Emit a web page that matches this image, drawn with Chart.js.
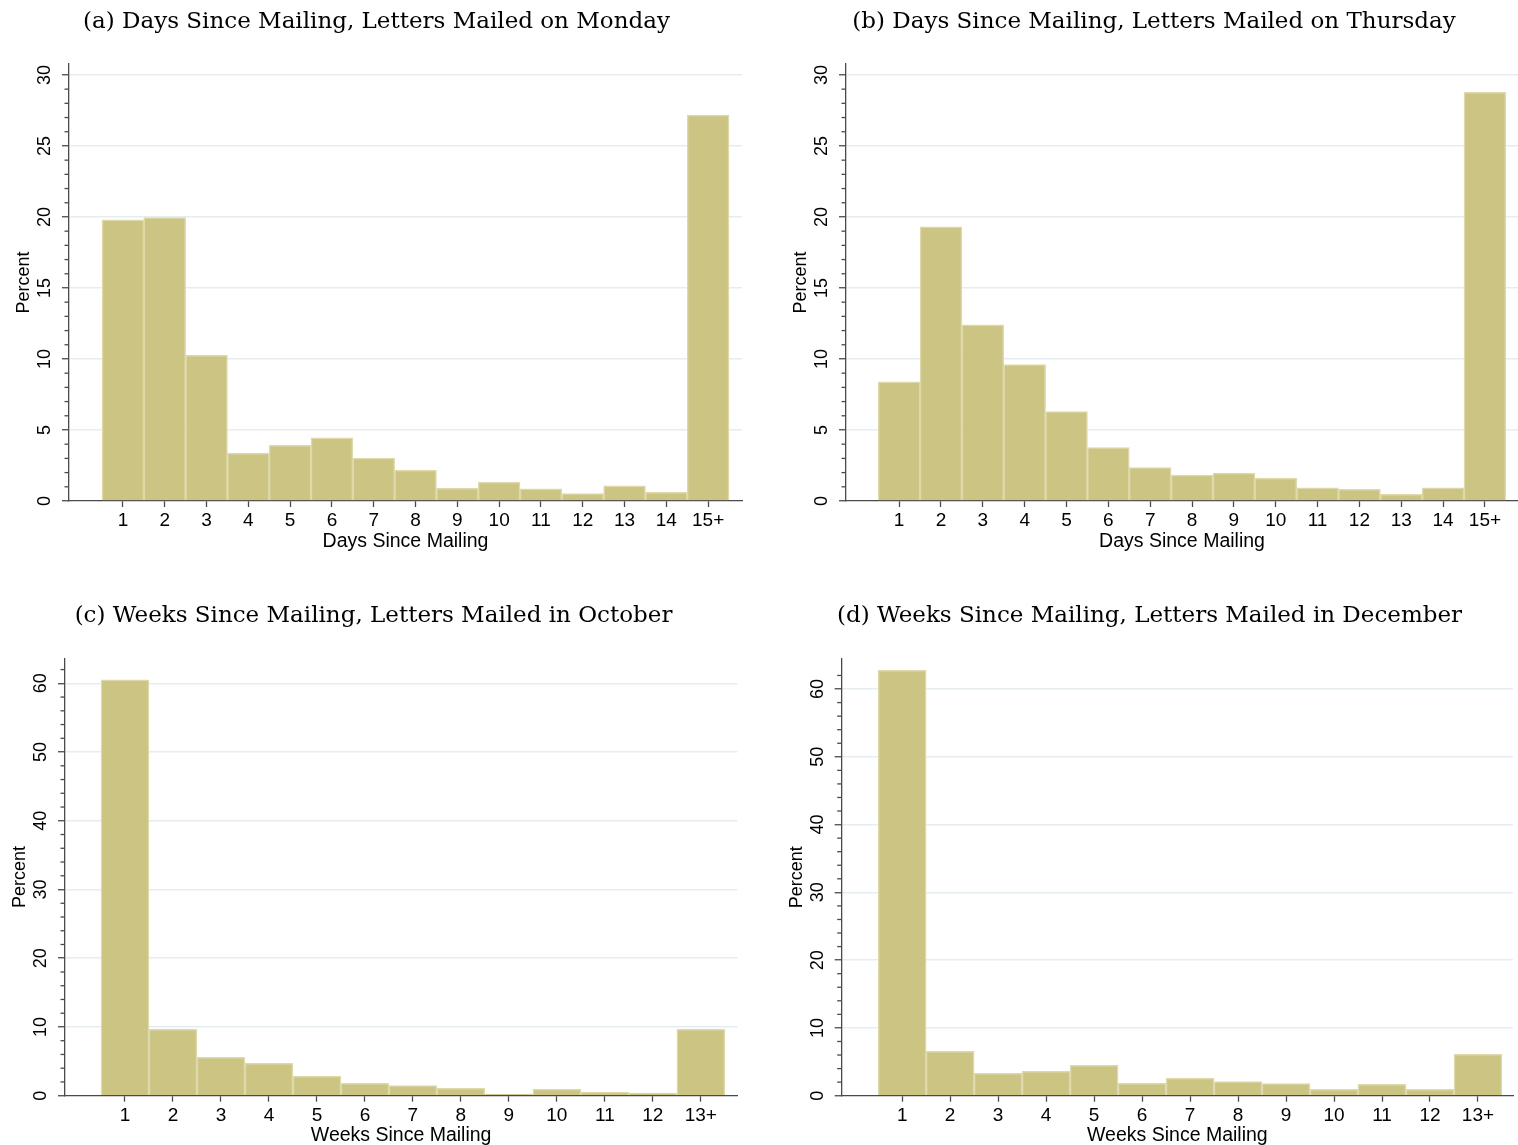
<!DOCTYPE html>
<html>
<head>
<meta charset="utf-8">
<title>Days and weeks since mailing</title>
<script src="https://cdn.jsdelivr.net/npm/chart.js@4.4.1/dist/chart.umd.min.js"></script>
<style>
  html, body { margin: 0; padding: 0; background: #fff; }
  #page { position: relative; width: 1518px; height: 1145px; overflow: hidden; background: #fff; }
  #page canvas { position: absolute; }
</style>
</head>
<body>
<div id="page">
  <canvas id="panelA"></canvas>
  <canvas id="panelB"></canvas>
  <canvas id="panelC"></canvas>
  <canvas id="panelD"></canvas>
</div>
<script>
// ---- data ----------------------------------------------------------------
const dayCategories  = ['1', '2', '3', '4', '5', '6', '7', '8', '9', '10', '11', '12', '13', '14', '15+'];
const weekCategories = ['1', '2', '3', '4', '5', '6', '7', '8', '9', '10', '11', '12', '13+'];

// percent of letters, by days since mailing
const mondayPercent   = [19.79, 19.95, 10.26, 3.38, 3.92, 4.44, 3.02, 2.18, 0.89, 1.34, 0.85, 0.52, 1.06, 0.61, 27.18];
const thursdayPercent = [8.39, 19.31, 12.41, 9.61, 6.30, 3.77, 2.36, 1.82, 1.96, 1.62, 0.92, 0.82, 0.47, 0.92, 28.78];

// percent of letters, by weeks since mailing
const octoberPercent  = [60.5, 9.66, 5.58, 4.70, 2.87, 1.80, 1.46, 1.07, 0.25, 0.97, 0.54, 0.39, 9.66];
const decemberPercent = [62.76, 6.55, 3.30, 3.60, 4.48, 1.83, 2.61, 2.07, 1.77, 0.94, 1.67, 0.94, 6.10];

// y-axis tick labels
const dayPercentTicks  = [0, 5, 10, 15, 20, 25, 30];
const weekPercentTicks = [0, 10, 20, 30, 40, 50, 60];

const panelTitles = [
  '(a) Days Since Mailing, Letters Mailed on Monday',
  '(b) Days Since Mailing, Letters Mailed on Thursday',
  '(c) Weeks Since Mailing, Letters Mailed in October',
  '(d) Weeks Since Mailing, Letters Mailed in December'
];
const dayAxisTitle  = 'Days Since Mailing';
const weekAxisTitle = 'Weeks Since Mailing';
const valueAxisTitle = 'Percent';

// ---- style -----------------------------------------------------------------
const BAR_FILL = 'rgb(203,196,131)';
const BAR_EDGE = 'rgb(222,217,170)';
const GRID     = 'rgb(229,237,241)';
const AXIS     = '#4a4a4a';
const SANS     = "'Liberation Sans', Arial, sans-serif";
const SERIF    = "'DejaVu Serif', serif";
const TITLE_SIZE = 23;
const XTITLE_SIZE = 19.5;

Chart.defaults.font.family = SANS;
Chart.defaults.font.size = 18;
Chart.defaults.color = '#000';

// small unlabeled ticks between the labeled ones on the value axis
function minorTickPlugin(spec) {
  return {
    id: 'minorTicks',
    afterDraw(chart) {
      const ys = chart.scales.y;
      const x0 = chart.chartArea.left;
      const ctx = chart.ctx;
      ctx.save();
      ctx.strokeStyle = AXIS;
      ctx.lineWidth = 1.3;
      for (let v = spec.minorStep; v <= spec.minorTop + 1e-9; v += spec.minorStep) {
        if (spec.yTicks.includes(v)) continue;
        const py = ys.getPixelForValue(v);
        ctx.beginPath();
        ctx.moveTo(x0 - 4.5, py);
        ctx.lineTo(x0, py);
        ctx.stroke();
      }
      ctx.restore();
    }
  };
}

function drawPanel(spec) {
  const canvas = document.getElementById(spec.id);
  canvas.width = spec.width;
  canvas.height = spec.height;
  canvas.style.left = spec.left + 'px';
  canvas.style.top = spec.top + 'px';

  const gap = spec.left + spec.width - spec.chartRight;      // equal side padding keeps the title centred
  const yAxisWidth = spec.axisX - spec.left - gap;
  const xAxisHeight = spec.top + spec.height - spec.chartBottom;
  const titleLine = TITLE_SIZE * 1.2;
  const titlePadTop = spec.titleY - spec.top - titleLine / 2;
  const titlePadBottom = spec.chartTop - spec.top - titlePadTop - titleLine;
  const yTitlePad = spec.axisX - 44.5 - spec.left - gap - 9;
  const xTitlePad = spec.top + spec.height - spec.xTitleY - XTITLE_SIZE * 1.2 / 2;

  const points = spec.values.map((v, i) => ({ x: i + 1, y: v }));
  const xTickValues = spec.labels.map((_, i) => i + 1);

  new Chart(canvas, {
    type: 'bar',
    data: {
      datasets: [{
        data: points,
        backgroundColor: BAR_FILL,
        borderColor: BAR_EDGE,
        borderWidth: 1.5,
        categoryPercentage: 1,
        barPercentage: 1
      }]
    },
    options: {
      responsive: false,
      animation: false,
      devicePixelRatio: 1,
      layout: { padding: { left: gap, right: gap, top: 0, bottom: 0 } },
      plugins: {
        legend: { display: false },
        tooltip: { enabled: false },
        title: {
          display: true,
          text: spec.title,
          color: '#000',
          font: { family: SERIF, size: TITLE_SIZE, weight: 'normal', lineHeight: 1.2 },
          padding: { top: titlePadTop, bottom: titlePadBottom }
        }
      },
      scales: {
        x: {
          type: 'linear',
          min: spec.xMin,
          max: spec.xMax,
          offset: false,
          afterBuildTicks: s => { s.ticks = xTickValues.map(v => ({ value: v })); },
          afterFit: s => { s.height = xAxisHeight; },
          ticks: {
            autoSkip: false,
            includeBounds: false,
            maxRotation: 0,
            padding: 2.5,
            color: '#000',
            font: { size: 19 },
            callback: v => spec.labels[Math.round(v) - 1] ?? ''
          },
          grid: { drawOnChartArea: false, offset: false, tickLength: 6, tickColor: AXIS, tickWidth: 1.3 },
          border: { color: AXIS, width: 1.3 },
          title: {
            display: true,
            text: spec.xTitle,
            color: '#000',
            font: { size: XTITLE_SIZE, lineHeight: 1.2 },
            padding: { top: 0, bottom: xTitlePad }
          }
        },
        y: {
          type: 'linear',
          min: 0,
          max: spec.yMax,
          afterBuildTicks: s => { s.ticks = spec.yTicks.map(v => ({ value: v })); },
          afterFit: s => { s.width = yAxisWidth; },
          ticks: {
            includeBounds: false,
            minRotation: 90,
            maxRotation: 90,
            crossAlign: 'center',
            padding: 6.5,
            color: '#000',
            font: { size: 18 }
          },
          grid: {
            color: c => (c.tick && c.tick.value === 0) ? 'rgba(0,0,0,0)' : GRID,
            lineWidth: 1.5,
            tickLength: 7,
            tickColor: AXIS,
            tickWidth: 1.3
          },
          border: { color: AXIS, width: 1.3 },
          title: {
            display: true,
            text: valueAxisTitle,
            color: '#000',
            font: { size: 18, lineHeight: 1 },
            padding: { top: yTitlePad, bottom: 0 }
          }
        }
      }
    },
    plugins: [minorTickPlugin(spec)]
  });
}

const dayFrame  = { chartTop: 64, chartBottom: 501, titleY: 22, xTitleY: 541.5, yMax: 30.77,
                    yTicks: dayPercentTicks, minorStep: 1, minorTop: 30, labels: dayCategories, xTitle: dayAxisTitle };
const weekFrame = { chartBottom: 1095.7, titleY: 615.8, xTitleY: 1135.5,
                    yTicks: weekPercentTicks, minorStep: 2, minorTop: 62, labels: weekCategories, xTitle: weekAxisTitle };

drawPanel(Object.assign({}, dayFrame, {
  id: 'panelA', left: 0, top: 0, width: 753, height: 560,
  axisX: 69, chartRight: 742, xMin: -0.29, xMax: 15.81,
  title: panelTitles[0], values: mondayPercent
}));
drawPanel(Object.assign({}, dayFrame, {
  id: 'panelB', left: 790, top: 0, width: 728, height: 560,
  axisX: 846, chartRight: 1518, xMin: -0.27, xMax: 15.79,
  title: panelTitles[1], values: thursdayPercent
}));
drawPanel(Object.assign({}, weekFrame, {
  id: 'panelC', left: 0, top: 590, width: 747, height: 555,
  axisX: 65, chartRight: 737.3, chartTop: 658.3, xMin: -0.25, xMax: 13.76, yMax: 63.64,
  title: panelTitles[2], values: octoberPercent
}));
drawPanel(Object.assign({}, weekFrame, {
  id: 'panelD', left: 781, top: 590, width: 737, height: 555,
  axisX: 841.7, chartRight: 1513, chartTop: 659, xMin: -0.26, xMax: 13.73, yMax: 64.43,
  title: panelTitles[3], values: decemberPercent
}));
</script>
</body>
</html>
